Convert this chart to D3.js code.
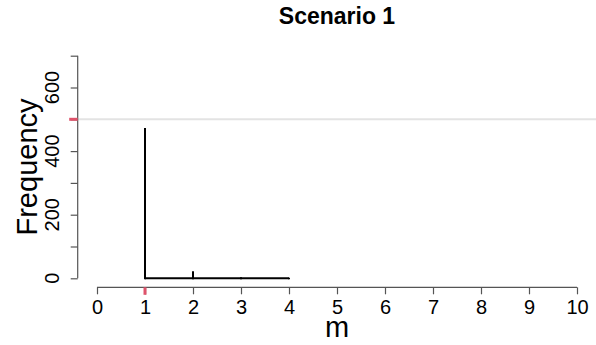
<!DOCTYPE html>
<html>
<head>
<meta charset="utf-8">
<script src="https://cdn.jsdelivr.net/npm/d3@7"></script>
<style>
  html, body { margin: 0; padding: 0; background: #fff; }
  svg { display: block; font-family: "Liberation Sans", Arial, Helvetica, sans-serif; }
</style>
</head>
<body>
<svg id="chart" width="596" height="345"></svg>
<script>
// Frequency of m across simulation runs
const mValues = [1, 2, 3, 4];
const frequencies = [473, 22, 3, 2];
const xTicks = [0, 1, 2, 3, 4, 5, 6, 7, 8, 9, 10];
const yTicks = [0, 100, 200, 300, 400, 500, 600, 700];
const yLabelTicks = [0, 200, 400, 600];
const totalRuns = 500;   // reference line
const trueM = 1;         // highlighted value on the x axis

const svg = d3.select("#chart");

const x = d3.scaleLinear().domain([0, 10]).range([97, 577]);
const y = d3.scaleLinear().domain([0, 700]).range([278.3, 55.7]);
const axisX = 77.7;   // y axis position
const axisY = 287.3;  // x axis position

// reference line at the total number of runs
svg.append("line")
  .attr("x1", axisX).attr("x2", 596)
  .attr("y1", y(totalRuns)).attr("y2", y(totalRuns))
  .attr("stroke", "#e3e3e3").attr("stroke-width", 2);

// x axis
const gx = svg.append("g").attr("transform", `translate(0,${axisY})`)
  .call(d3.axisBottom(x).tickValues(xTicks).tickFormat(d3.format("d")).tickSize(7).tickPadding(6));
gx.select(".domain").attr("stroke", "#555").attr("stroke-width", 1.2).attr("d", `M${x(0)},0H${x(10)}`);
gx.selectAll(".tick line").attr("stroke", "#555").attr("stroke-width", 1.2);
gx.selectAll("text").attr("font-size", 20).attr("fill", "#000").attr("font-family", "Liberation Sans, Arial, sans-serif");

// y axis
const gy = svg.append("g").attr("transform", `translate(${axisX},0)`)
  .call(d3.axisLeft(y).tickValues(yTicks).tickSize(7).tickFormat(""));
gy.select(".domain").attr("stroke", "#555").attr("stroke-width", 1.2).attr("d", `M0,${y(0)}V${y(700)}`);
gy.selectAll(".tick line").attr("stroke", "#555").attr("stroke-width", 1.2);

// rotated y tick labels
svg.append("g").selectAll("text").data(yLabelTicks).join("text")
  .attr("transform", d => `translate(59,${y(d)}) rotate(-90)`)
  .attr("text-anchor", "middle")
  .attr("font-size", 20)
  .text(d => d);

// highlighted ticks
svg.append("line")
  .attr("x1", axisX - 8.5).attr("x2", axisX)
  .attr("y1", y(totalRuns)).attr("y2", y(totalRuns))
  .attr("stroke", "#df536b").attr("stroke-width", 3);
svg.append("line")
  .attr("x1", x(trueM)).attr("x2", x(trueM))
  .attr("y1", axisY).attr("y2", axisY + 7.5)
  .attr("stroke", "#df536b").attr("stroke-width", 3);

// baseline across observed values
svg.append("line")
  .attr("x1", x(d3.min(mValues))).attr("x2", x(d3.max(mValues)))
  .attr("y1", y(0)).attr("y2", y(0))
  .attr("stroke", "#000").attr("stroke-width", 2);

// frequency spikes
svg.append("g").selectAll("line").data(mValues).join("line")
  .attr("x1", d => x(d)).attr("x2", d => x(d))
  .attr("y1", y(0) + 1).attr("y2", (d, i) => y(frequencies[i]))
  .attr("stroke", "#000").attr("stroke-width", 2);

// titles
svg.append("text")
  .attr("x", 337).attr("y", 23.5)
  .attr("text-anchor", "middle")
  .attr("font-size", 23).attr("font-weight", "bold")
  .text("Scenario 1");

svg.append("text")
  .attr("x", 337).attr("y", 337)
  .attr("text-anchor", "middle")
  .attr("font-size", 29)
  .text("m");

svg.append("text")
  .attr("transform", `translate(37,167) rotate(-90)`)
  .attr("text-anchor", "middle")
  .attr("font-size", 29)
  .text("Frequency");
</script>
</body>
</html>
